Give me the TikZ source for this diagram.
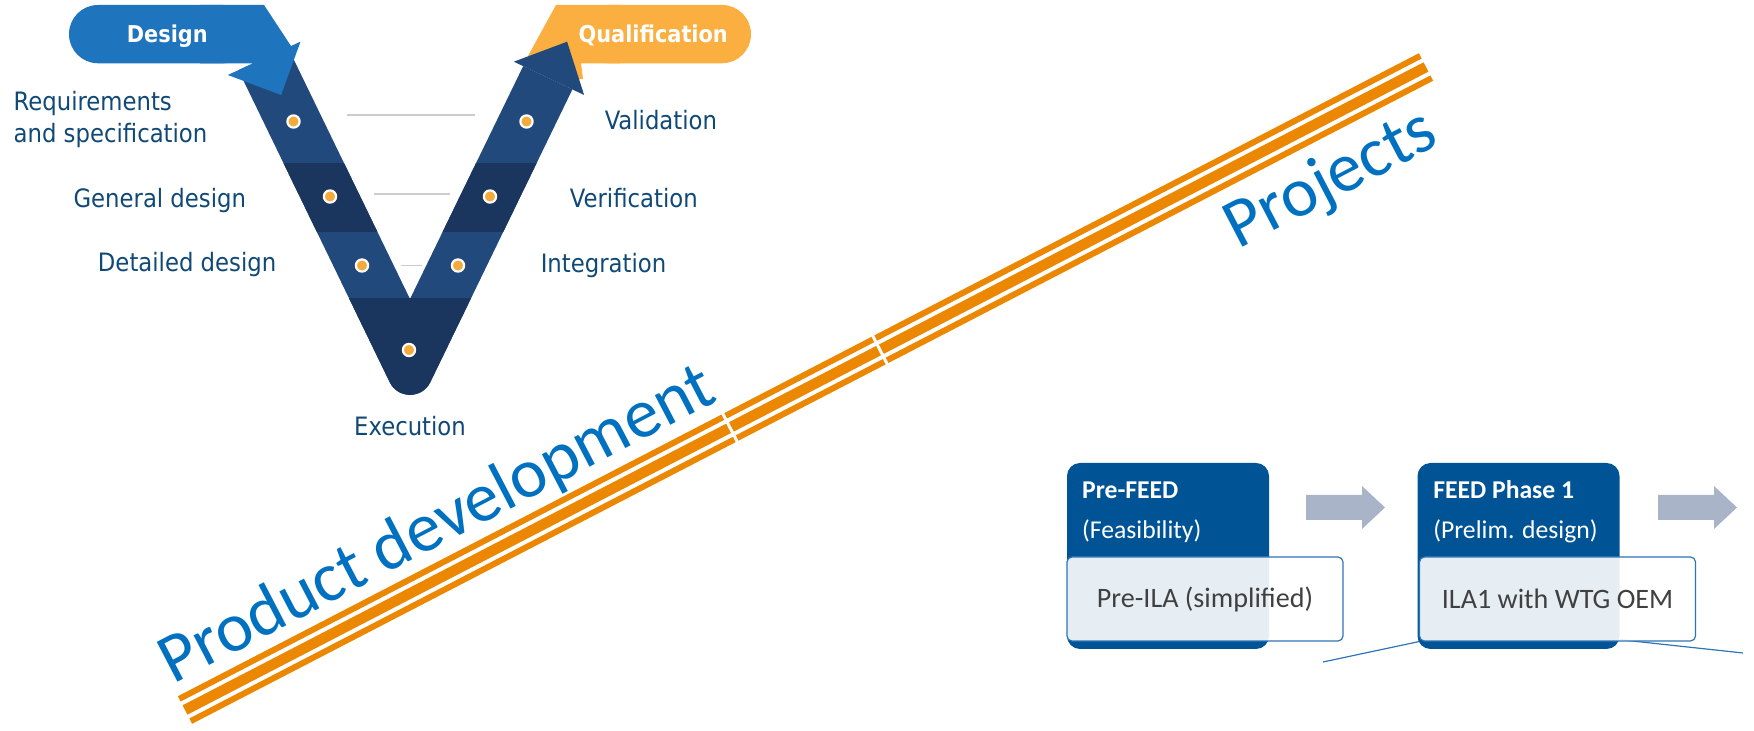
\documentclass[tikz,border=0pt]{standalone}
\usepackage{fontspec}
\setmainfont{Carlito}
\newfontfamily\vlabelfont{DejaVu Sans Condensed}

\definecolor{vlight}{RGB}{33,73,124}
\definecolor{vdark}{RGB}{26,54,94}
\definecolor{designblue}{RGB}{31,116,190}
\definecolor{qualorange}{RGB}{250,175,64}
\definecolor{vtext}{RGB}{16,72,118}
\definecolor{stripe}{RGB}{235,135,0}
\definecolor{titleblue}{RGB}{0,112,192}
\definecolor{dotorange}{RGB}{245,170,60}
\definecolor{phaseblue}{RGB}{0,84,150}
\definecolor{edgeblue}{RGB}{46,117,182}
\definecolor{arrowgrey}{RGB}{169,180,200}

\def\vshapepath{(238.4,70.2) -- (389.7,382.2) .. controls (397.9,399.1) and (422.1,399.1) .. (430.3,382.2)
  -- (572.4,89.4) -- (523.2,66.1) -- (410,299) -- (287.9,47.5) -- cycle}

\tikzset{
  vlabel/.style={font=\vlabelfont\fontsize{7.2}{9}\selectfont, text=vtext, inner sep=0pt},
  vhead/.style={font=\vlabelfont\bfseries\fontsize{6.6}{8}\selectfont, text=white, inner sep=0pt, anchor=base},
  vdot/.style={circle, fill=dotorange, draw=white, line width=0.22mm, minimum size=1.22mm, inner sep=0pt},
  rung/.style={draw=black!20, line width=0.15mm},
  bigtitle/.style={font=\fontsize{19.9}{24}\selectfont, text=titleblue, rotate=27.5, anchor=base west, inner sep=0pt},
  phase/.style={fill=phaseblue, rounded corners=1.3mm, minimum width=20.2mm, minimum height=18.6mm, inner sep=0pt},
  phasehead/.style={font=\bfseries\fontsize{7.3}{9}\selectfont, text=white, anchor=base west, inner sep=0pt},
  phasesub/.style={font=\fontsize{7.3}{9}\selectfont, text=white, anchor=base west, inner sep=0pt},
  ila/.style={draw=edgeblue, line width=0.12mm, fill=white, fill opacity=0.9, text opacity=1,
    rounded corners=0.5mm, minimum width=27.6mm, minimum height=8.4mm, inner sep=0pt,
    font=\fontsize{8}{10}\selectfont, text=black!75},
  callout/.style={draw=edgeblue, line width=0.12mm}
}

\begin{document}
\begin{tikzpicture}[x=0.1mm,y=-0.1mm]
\useasboundingbox (0,0) rectangle (1754,731);

% orange band
\draw[stripe,line width=1.05mm] (185,710) -- (1426,67);
\draw[stripe,line width=0.6mm] (179.25,698.9) -- (1420.25,55.9);
\draw[stripe,line width=0.6mm] (190.75,721.1) -- (1431.75,78.1);
\draw[white,line width=0.3mm] (719.9,408.2) -- (740.1,447.2);
\draw[white,line width=0.3mm] (870,330.5) -- (890,369.5);

\node[bigtitle] (pdlabel) at (172.7,684.8) {Product development};
\node[bigtitle] (projlabel) at (1238,250) {Projects};

% V model
\fill[qualorange,rounded corners=2.9mm] (580,5) rectangle (751,63.3);
\fill[qualorange] (620,5) -- (556,5) -- (528,56) -- (566,80) -- (583,79) -- (581,63.3) -- (620,63.3) -- cycle;

\fill[vlight] \vshapepath;
\begin{scope}
\clip \vshapepath;
\fill[vdark] (200,163.3) rectangle (620,231.7);
\fill[vdark] (200,298.3) rectangle (620,440);
\end{scope}
\fill[vlight] (513.8,61.7) -- (567.1,41.7) -- (584.1,95) -- cycle;

\fill[designblue,rounded corners=2.9mm] (69,5) rectangle (252,63.3);
\fill[designblue] (200,5) -- (264,5) -- (291,46) -- (300.5,41.7) -- (281.1,95) -- (227.8,75) -- (253.3,63.3) -- (200,63.3) -- cycle;

\draw[rung] (346.6,115) -- (475,115);
\draw[rung] (374,194) -- (450,194);
\draw[rung] (401,265.7) -- (421.7,265.7);

\node[vdot] (dl1) at (293.5,121.5) {};
\node[vdot] (dl2) at (330,196.5) {};
\node[vdot] (dl3) at (362,265.5) {};
\node[vdot] (dr1) at (526.5,121.5) {};
\node[vdot] (dr2) at (490,196.5) {};
\node[vdot] (dr3) at (458,265.5) {};
\node[vdot] (dbot) at (409,350) {};

\node[vhead] (designlabel) at (167.3,42.7) {Design};
\node[vhead] (quallabel) at (653.2,42.7) {Qualification};

\node[vlabel,anchor=west,align=left] (reqlabel) at (13,119.5) {Requirements\\and specification};
\node[vlabel,anchor=base] (genlabel) at (159.8,207.3) {General design};
\node[vlabel,anchor=base] (detlabel) at (187.1,271.7) {Detailed design};
\node[vlabel,anchor=base] (vallabel) at (660.9,129.3) {Validation};
\node[vlabel,anchor=base] (verlabel) at (633.8,207.7) {Verification};
\node[vlabel,anchor=base] (intlabel) at (603.5,272.7) {Integration};
\node[vlabel,anchor=base] (exelabel) at (410,436) {Execution};

% project phases
\coordinate (cl) at (1323,662);
\coordinate (cr) at (1743,653);

\node[phase] (prefeed) at (1168,556) {};
\node[phase] (feed1) at (1518.5,556) {};
\draw[callout] ([yshift=1mm]feed1.south east) -- (cr);

\node[phasehead] (prefeedhead) at (1081.4,498.3) {Pre-FEED};
\node[phasesub] (prefeedsub) at (1081.4,538.3) {(Feasibility)};
\node[phasehead] (feed1head) at (1432.6,498.3) {FEED Phase 1};
\node[phasesub] (feed1sub) at (1432.6,538.3) {(Prelim. design)};

\node[ila] (preila) at (1205,599) {Pre-ILA (simplified)};
\node[ila] (ila1) at (1557.5,599) {ILA1 with WTG OEM};
\draw[callout] (cl) -- (ila1.south west);

\foreach \dx in {0,352}
  \fill[arrowgrey,shift={(\dx,0)}] (1306,495) -- (1362,495) -- (1362,486) -- (1385,507.5)
    -- (1362,529) -- (1362,520) -- (1306,520) -- cycle;
\end{tikzpicture}
\end{document}
